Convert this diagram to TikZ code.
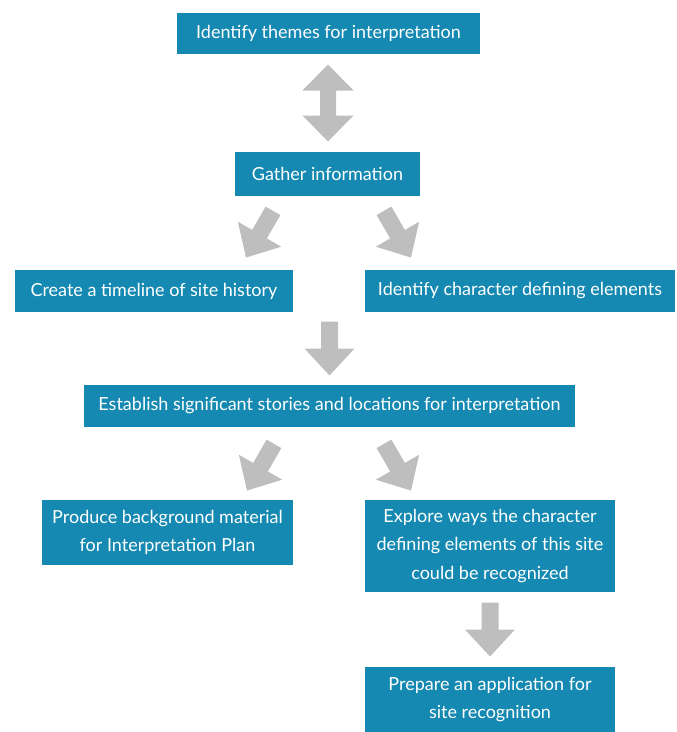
\documentclass[tikz,border=0pt]{standalone}
\usepackage{fontspec}
\setmainfont{Lato}
\usetikzlibrary{calc}
\definecolor{boxteal}{HTML}{1589B1}
\definecolor{arrowgray}{HTML}{BEBEBE}
\begin{document}
\begin{tikzpicture}[x=1pt,y=1pt,
  stepbox/.style={fill=boxteal, text=white, font=\fontsize{18}{28.5}\selectfont, align=center, inner sep=0pt},
  blockarrow/.pic={\fill[arrowgray] (-27,-8.5) -- (0,-8.5) -- (0,-25) -- (27,0) -- (0,25) -- (0,8.5) -- (-27,8.5) -- cycle;},
  dblarrow/.pic={\fill[arrowgray] (-38.5,0) -- (-12.5,25.5) -- (-12.5,8) -- (12.5,8) -- (12.5,25.5) -- (38.5,0) -- (12.5,-25.5) -- (12.5,-8) -- (-12.5,-8) -- (-12.5,-25.5) -- cycle;}]
\useasboundingbox (0,0) rectangle (677,-732);
\node[stepbox, minimum width=303, minimum height=41] (themes) at (328.5,-33.5) {Identify themes for interpretation};
\node[stepbox, minimum width=185, minimum height=44] (gather) at (327.5,-174) {Gather information};
\node[stepbox, minimum width=278, minimum height=42] (hist) at (154,-291) {Create a timeline of site history};
\node[stepbox, minimum width=310, minimum height=42] (chars) at (520,-291) {Identify character defining elements};
\node[stepbox, minimum width=491, minimum height=42] (est) at (329.5,-406) {Establish significant stories and locations for interpretation};
\node[stepbox, minimum width=251, minimum height=65] (prod) at (167.5,-532.5) {Produce background material\\for Interpretation Plan};
\node[stepbox, minimum width=250, minimum height=92] (explore) at (490,-546) {Explore ways the character\\defining elements of this site\\could be recognized};
\node[stepbox, minimum width=250, minimum height=65] (apply) at (490,-699.5) {Prepare an application for\\site recognition};
% block arrows
\pic[rotate=90] at ($(themes.south)!0.5!(gather.north)$) {dblarrow};
\pic[rotate=-120] at ($(gather.south)+(-68,-38)$) {blockarrow};
\pic[rotate=-60] at ($(gather.south)+(70,-38)$) {blockarrow};
\pic[rotate=-90] at ($(est.north)!0.5!(est.north |- hist.south)$) {blockarrow};
\pic[rotate=-120] at ($(est.south)+(-69,-40)$) {blockarrow};
\pic[rotate=-60] at ($(est.south)+(68,-40)$) {blockarrow};
\pic[rotate=-90] at ($(explore.south)!0.5!(apply.north)$) {blockarrow};
\end{tikzpicture}
\end{document}
